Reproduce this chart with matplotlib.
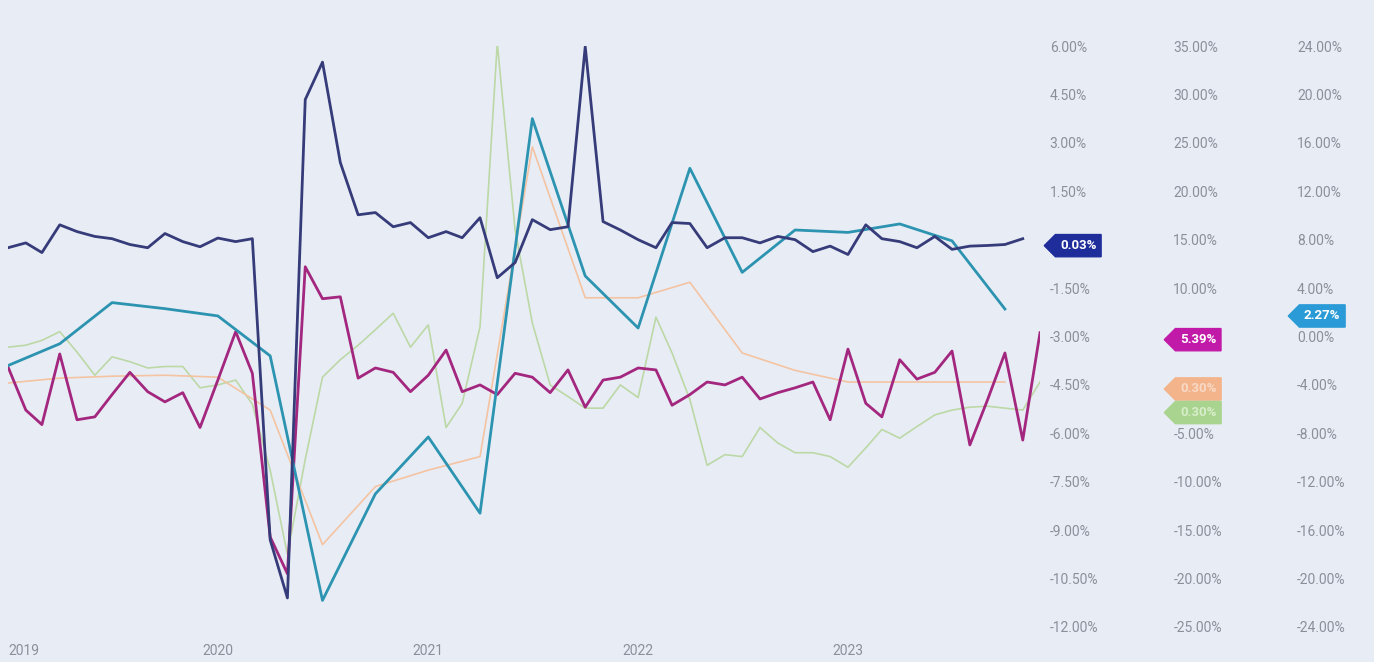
import numpy as np
import pandas as pd
import matplotlib
matplotlib.use("Agg")
import matplotlib.pyplot as plt
from matplotlib.path import Path
from matplotlib.ticker import FuncFormatter
from matplotlib.transforms import blended_transform_factory

# данные
months = pd.date_range("2019-01-01", "2023-12-01", freq="MS")
quarters = pd.date_range("2019-01-01", "2023-10-01", freq="QS")

# синяя линия, левая шкала (-12%..6%)
navy = [-0.25, -0.1, -0.4, 0.46, 0.25, 0.1, 0.03, -0.15, -0.25, 0.19,
        -0.06, -0.22, 0.05, -0.06, 0.03, -9.3, -11.1, 4.34, 5.5, 2.39,
        0.77, 0.84, 0.4, 0.53, 0.06, 0.25, 0.06, 0.68, -1.18, -0.71,
        0.62, 0.31, 0.4, 5.98, 0.56, 0.3, 0.0, -0.25, 0.53, 0.5,
        -0.25, 0.06, 0.06, -0.1, 0.1, 0.0, -0.37, -0.2, -0.46, 0.46,
        0.03, -0.06, -0.25, 0.1, -0.3, -0.2, -0.18, -0.15, 0.03]

# средняя шкала (-25%..35%)
magenta = [1.86, -2.6, -4.1, 3.2, -3.6, -3.3, -1.0, 1.3, -0.7, -1.75,
           -0.8, -4.4, 0.5, 5.5, 1.2, -15.7, -19.5, 12.2, 8.9, 9.1,
           0.7, 1.75, 1.3, -0.7, 1.0, 3.6, -0.7, 0.0, -1.0, 1.2,
           0.8, -0.8, 1.55, -2.3, 0.5, 0.8, 1.75, 1.55, -2.1, -1.0,
           0.3, 0.0, 0.8, -1.45, -0.8, -0.3, 0.3, -3.6, 3.7, -1.9,
           -3.3, 2.6, 0.6, 1.3, 3.5, -6.2, -1.5, 3.3, -5.7, 5.39]
green = [3.9, 4.1, 4.6, 5.5, 3.4, 1.0, 2.9, 2.4, 1.75, 1.9,
         1.9, -0.3, 0.0, 0.5, -2.0, -8.8, -17.5, -7.7, 0.8, 2.6,
         4.1, 5.7, 7.4, 3.9, 6.2, -4.4, -1.9, 6.0, 35.3, 16.0,
         6.4, 0.0, -1.2, -2.4, -2.4, 0.0, -1.3, 7.0, 3.3, -1.5,
         -8.3, -7.2, -7.4, -4.4, -6.0, -7.0, -7.0, -7.4, -8.5, -6.5,
         -4.6, -5.5, -4.3, -3.1, -2.6, -2.3, -2.2, -2.4, -2.6, 0.3]
orange = [0.2, 0.7, 0.9, 1.0, 0.8, -2.6, -16.5, -10.5, -8.8, -7.4,
          24.6, 9.0, 9.0, 10.6, 3.3, 1.5, 0.3, 0.3, 0.3, 0.3]

# правая шкала (-24%..24%)
cyan = [-2.4, -0.6, 2.8, 2.3, 1.7, -1.6, -21.8, -13.0, -8.3, -14.6,
        18.0, 5.0, 0.7, 13.9, 5.3, 8.8, 8.6, 9.3, 7.9, 2.27]

years = [2019, 2020, 2021, 2022, 2023]

bg = "#e8edf5"
tick_col = "#8a8f9a"
plt.rcParams["font.family"] = ["Roboto", "DejaVu Sans"]

fig = plt.figure(figsize=(13.74, 6.62), dpi=100, facecolor=bg)
axB = fig.add_axes([8 / 1374, 1 - 627 / 662, 1032 / 1374, 581 / 662])
axB.set_facecolor(bg)
axC = axB.twinx()
axA = axB.twinx()

axB.plot(months, green, color="#bcd8a6", lw=1.2, zorder=2)
axB.plot(quarters, orange, color="#f4c3a2", lw=1.2, zorder=2)
axB.plot(months, magenta, color="#a3267f", lw=2.0, zorder=4)
axC.plot(quarters, cyan, color="#2c93b0", lw=2.0)
axA.plot(months[:len(navy)], navy, color="#363b7a", lw=2.0)

axA.set_ylim(-12, 6)
axA.set_yticks(np.arange(-12, 6.01, 1.5))
axB.set_ylim(-25, 35)
axB.set_yticks(np.arange(-25, 35.01, 5))
axC.set_ylim(-24, 24)
axC.set_yticks(np.arange(-24, 24.01, 4))


# подписи, закрытые ярлыками, не выводятся
def make_fmt(hidden):
    def f(v, p):
        if any(abs(v - h) < 1e-6 for h in hidden):
            return ""
        return "{:.2f}%".format(v)
    return FuncFormatter(f)


for ax, pad, hidden in [(axA, 7, [0.0]), (axB, 96, [5.0, 0.0]), (axC, 185, [])]:
    ax.yaxis.tick_right()
    ax.yaxis.set_major_formatter(make_fmt(hidden))
    ax.tick_params(axis="y", length=0, pad=pad, labelsize=10, labelcolor=tick_col)
    for s in ax.spines.values():
        s.set_visible(False)

axB.set_xlim(months[0], months[-1])
axB.set_xticks([pd.Timestamp(f"{y}-01-01") for y in years])
axB.set_xticklabels([str(y) for y in years])
axB.tick_params(axis="x", length=0, pad=12, labelsize=10, labelcolor=tick_col)
axB.get_xticklabels()[0].set_horizontalalignment("left")


# ярлыки последних значений
def tag_box(x0, y0, width, height, mutation_size):
    pad = 0.35 * mutation_size
    x0 -= pad
    y0 -= pad
    w = width + 2 * pad
    h = height + 2 * pad
    tip = h * 0.5
    verts = [(x0 - tip, y0 + h / 2), (x0, y0 + h), (x0 + w, y0 + h),
             (x0 + w, y0), (x0, y0), (x0 - tip, y0 + h / 2)]
    return Path(verts, closed=True)


def tag(ax, xpix, val, text, color, dy=0, tcol="white"):
    tr = blended_transform_factory(fig.transFigure, ax.transData)
    ax.annotate(text, xy=(xpix / 1374, val), xycoords=tr,
                xytext=(0, -5 + dy), textcoords="offset points",
                ha="left", va="center", fontsize=9.5, fontweight="bold",
                color=tcol, annotation_clip=False, zorder=10,
                bbox=dict(boxstyle=tag_box, fc=color, ec=color))


tag(axA, 1060, navy[-1], "0.03%", "#1f2d9b")
tag(axC, 1304, cyan[-1], "2.27%", "#2a9bd6")
tag(axB, 1180, magenta[-1], "5.39%", "#c21aa8")
tag(axB, 1180, orange[-1], "0.30%", "#f3b48c", tcol="#f7d9c6")
tag(axB, 1180, green[-1], "0.30%", "#a9d48f", dy=-17, tcol="#d7ecc9")

fig.savefig("out.png", dpi=100, facecolor=bg)
